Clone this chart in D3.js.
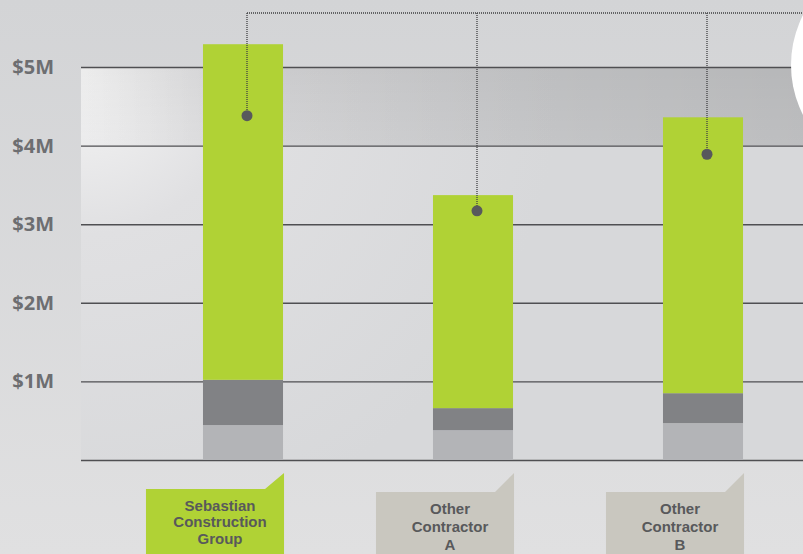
<!DOCTYPE html>
<html>
<head>
<meta charset="utf-8">
<script src="https://cdn.jsdelivr.net/npm/d3@7"></script>
<style>
  body { margin: 0; background: #d9dadc; }
  svg { display: block; }
</style>
</head>
<body>
<script>
// chart values, in $M
const categories = ['Sebastian Construction Group', 'Other Contractor A', 'Other Contractor B'];
const labelLines = [['Sebastian', 'Construction', 'Group'], ['Other', 'Contractor', 'A'], ['Other', 'Contractor', 'B']];
const baseValues = [0.445, 0.38, 0.47];   // light gray segment
const midValues = [0.575, 0.28, 0.38];    // dark gray segment
const topValues = [4.27, 2.71, 3.51];     // green segment
const markerValues = [4.38, 3.17, 3.89];  // dots with leader lines
const tickValues = [0, 1, 2, 3, 4, 5];

const width = 803;
const height = 554;
const plot = { left: 81, top: 67, right: 803, bottom: 460 };
const green = '#b0d235';
const segColors = { base: '#b3b4b7', mid: '#818285', top: green };

const svg = d3.select('body').append('svg')
    .attr('width', width)
    .attr('height', height);

const defs = svg.append('defs');

const bgGrad = defs.append('linearGradient').attr('id', 'bg')
    .attr('x1', 0).attr('y1', 0).attr('x2', 0).attr('y2', 1);
bgGrad.append('stop').attr('offset', 0).attr('stop-color', '#d3d4d6');
bgGrad.append('stop').attr('offset', 1).attr('stop-color', '#e0e0e1');

const plotGrad = defs.append('radialGradient').attr('id', 'plotbg')
    .attr('gradientUnits', 'userSpaceOnUse')
    .attr('cx', plot.left).attr('cy', plot.top).attr('r', 480);
plotGrad.append('stop').attr('offset', 0).attr('stop-color', '#f6f6f6');
plotGrad.append('stop').attr('offset', 0.35).attr('stop-color', '#e0e0e2');
plotGrad.append('stop').attr('offset', 1).attr('stop-color', '#d7d8da');

const bandGrad = defs.append('linearGradient').attr('id', 'band')
    .attr('x1', 0).attr('y1', 0).attr('x2', 1).attr('y2', 0);
bandGrad.append('stop').attr('offset', 0).attr('stop-color', '#000').attr('stop-opacity', 0);
bandGrad.append('stop').attr('offset', 0.25).attr('stop-color', '#000').attr('stop-opacity', 0.05);
bandGrad.append('stop').attr('offset', 1).attr('stop-color', '#000').attr('stop-opacity', 0.12);

const bandFade = defs.append('linearGradient').attr('id', 'bandfade')
    .attr('x1', 0).attr('y1', 0).attr('x2', 0).attr('y2', 1);
bandFade.append('stop').attr('offset', 0).attr('stop-color', '#000').attr('stop-opacity', 0.04);
bandFade.append('stop').attr('offset', 1).attr('stop-color', '#000').attr('stop-opacity', 0);

// scales
const y = d3.scaleLinear().domain([0, 5]).range([plot.bottom, plot.top]);
const x = d3.scaleBand().domain(categories).range([128, 818])
    .paddingInner(0.652).paddingOuter(0.326);

// backgrounds
svg.append('rect').attr('width', width).attr('height', height).attr('fill', 'url(#bg)');
svg.append('rect')
    .attr('x', plot.left).attr('y', plot.top)
    .attr('width', plot.right - plot.left).attr('height', plot.bottom - plot.top)
    .attr('fill', 'url(#plotbg)');
svg.append('rect')
    .attr('x', plot.left).attr('y', y(5))
    .attr('width', plot.right - plot.left).attr('height', y(4) - y(5))
    .attr('fill', 'url(#band)');
svg.append('rect')
    .attr('x', plot.left).attr('y', y(5))
    .attr('width', plot.right - plot.left).attr('height', y(4) - y(5))
    .attr('fill', 'url(#bandfade)');

// gridlines
const grid = svg.append('g')
    .attr('transform', `translate(${plot.left},0)`)
    .call(d3.axisLeft(y).tickValues(tickValues).tickSize(-(plot.right - plot.left)).tickFormat(''));
grid.select('.domain').remove();
grid.selectAll('line').attr('stroke', '#4f4f52').attr('stroke-width', 1.4);

// stacked bars
const rows = categories.map((c, i) => ({ name: c, base: baseValues[i], mid: midValues[i], top: topValues[i] }));
const series = d3.stack().keys(['base', 'mid', 'top'])(rows);

svg.append('g').selectAll('g')
    .data(series)
    .join('g')
    .attr('fill', d => segColors[d.key])
    .selectAll('rect')
    .data(d => d)
    .join('rect')
    .attr('x', d => x(d.data.name))
    .attr('y', d => y(d[1]))
    .attr('width', x.bandwidth())
    .attr('height', d => y(d[0]) - y(d[1]));

// white circle at top right
svg.append('circle')
    .attr('cx', 901).attr('cy', 65).attr('r', 110)
    .attr('fill', '#ffffff');

// leader lines and dots
const leaderY = 13;
const dotX = i => x(categories[i]) + x.bandwidth() / 2 + 4;

svg.append('line')
    .attr('x1', dotX(0)).attr('x2', width)
    .attr('y1', leaderY).attr('y2', leaderY)
    .attr('stroke', '#3f3f42').attr('stroke-width', 1.3)
    .attr('stroke-dasharray', '1,1');

svg.append('g').selectAll('line')
    .data(markerValues)
    .join('line')
    .attr('x1', (d, i) => dotX(i)).attr('x2', (d, i) => dotX(i))
    .attr('y1', leaderY).attr('y2', d => y(d))
    .attr('stroke', '#3f3f42').attr('stroke-width', 1.3)
    .attr('stroke-dasharray', '1,1');

svg.append('g').selectAll('circle')
    .data(markerValues)
    .join('circle')
    .attr('cx', (d, i) => dotX(i))
    .attr('cy', d => y(d))
    .attr('r', 5.5)
    .attr('fill', '#58595c');

// category label tags
const tags = svg.append('g').selectAll('g')
    .data(categories)
    .join('g');

tags.append('path')
    .attr('d', (d, i) => {
        const l = x(d) - 57;
        const r = x(d) + x.bandwidth() + 1;
        const t = i === 0 ? 489 : 492;
        return `M${l},${height}V${t}H${r - 19}L${r},473V${height}Z`;
    })
    .attr('fill', (d, i) => i === 0 ? green : '#c9c7bf');

tags.append('text')
    .attr('text-anchor', 'middle')
    .attr('font-family', '"Liberation Sans", Arial, sans-serif')
    .attr('font-weight', 'bold')
    .attr('font-size', '15px')
    .attr('fill', '#58595b')
    .each(function (d, i) {
        const t = i === 0 ? 489 : 492;
        const step = i === 0 ? 16.5 : 18.3;
        const cx = x(d) + x.bandwidth() / 2 - 23;
        d3.select(this).selectAll('tspan')
            .data(labelLines[i])
            .join('tspan')
            .attr('x', cx)
            .attr('y', (s, j) => t + 21.5 + j * step)
            .text(s => s);
    });

// y axis labels
const yAxis = svg.append('g')
    .attr('transform', `translate(${plot.left},0)`)
    .call(d3.axisLeft(y).tickValues(tickValues.slice(1)).tickSize(0).tickPadding(27)
        .tickFormat(d => `$${d}M`));
yAxis.select('.domain').remove();
yAxis.selectAll('text')
    .attr('font-family', '"Open Sans", sans-serif')
    .attr('font-weight', 'bold')
    .attr('font-size', '20px')
    .attr('fill', '#6d6e71');
</script>
</body>
</html>
